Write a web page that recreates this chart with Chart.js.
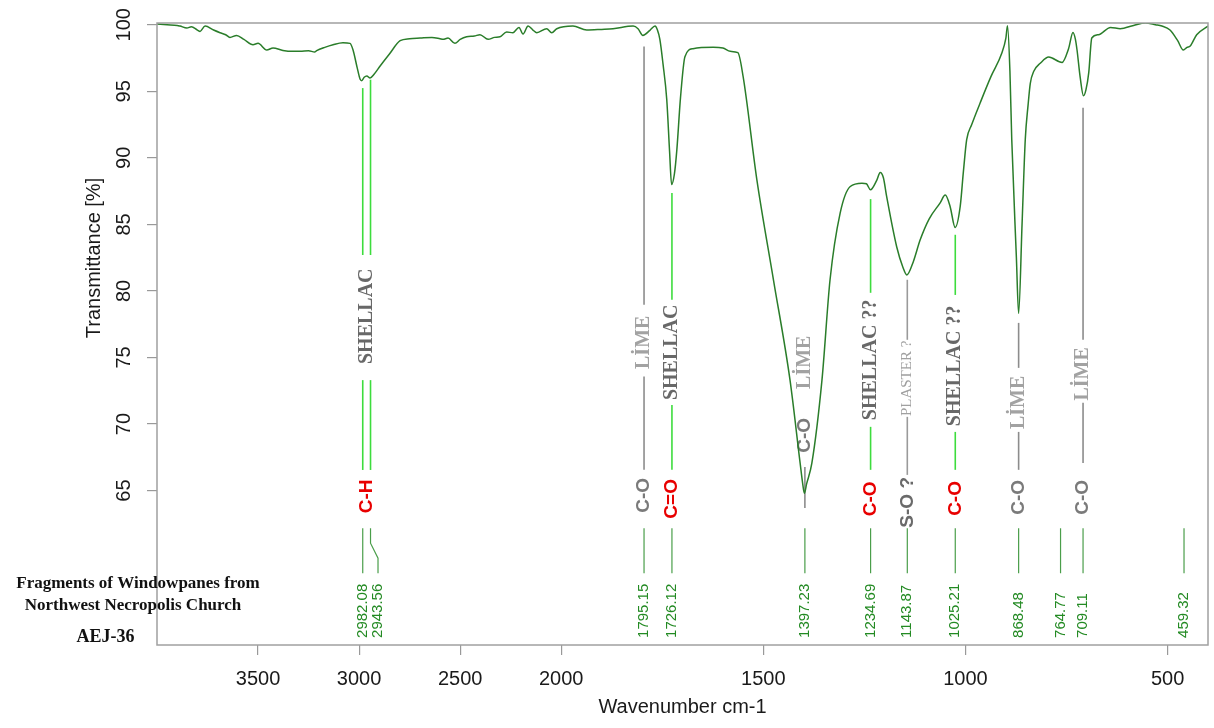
<!DOCTYPE html>
<html>
<head>
<meta charset="utf-8">
<title>FTIR AEJ-36</title>
<script src="https://cdn.jsdelivr.net/npm/chart.js@4.4.1/dist/chart.umd.min.js"></script>
<style>
  html, body { margin: 0; padding: 0; background: #fff; }
  #wrap { width: 1214px; height: 728px; position: relative; }
</style>
</head>
<body>
<div id="wrap"><canvas id="ftir"></canvas></div>
<script>
// spectrum
const wavenumbers = [
  4000, 3950, 3900, 3886, 3852, 3830, 3800, 3787, 3762, 3720, 3688, 3660, 3639, 3606, 3570, 3525, 3500,
  3457, 3426, 3377, 3330, 3292, 3250, 3220, 3210, 3170, 3129, 3080, 3045, 3030, 3010, 2995, 2987, 2975,
  2962, 2946, 2925, 2896, 2850, 2797, 2750, 2698, 2640, 2600, 2585, 2560, 2526, 2500, 2468, 2430, 2402,
  2362, 2330, 2303, 2270, 2239, 2209, 2189, 2164, 2140, 2121, 2072, 2047, 2022, 1971, 1937, 1900, 1872,
  1822, 1810, 1798, 1780, 1768, 1762, 1756, 1748, 1739, 1732, 1727, 1720, 1714, 1705, 1694, 1674, 1624,
  1600, 1582, 1563, 1550, 1516, 1475, 1434, 1409, 1403, 1398.5, 1393, 1380, 1355, 1335, 1310,
  1285, 1256, 1245, 1235, 1219, 1211, 1203, 1195, 1170, 1155, 1145, 1129, 1112, 1090, 1063, 1050,
  1038, 1025.5, 1013, 1005, 997, 984.5, 964, 937, 910, 900, 896, 890, 885.5, 874, 868.5, 860, 852, 845,
  839.6, 831, 815, 794, 761, 745, 734, 728, 724, 716, 708, 702, 695, 687.5, 671, 641, 617, 584, 555, 530,
  514, 494, 475, 461, 452, 444, 428, 400
];
const transmittance = [
  100.05, 100.0, 99.95, 99.9, 99.75, 99.85, 99.6, 99.5, 99.9, 99.6, 99.4, 99.25, 99.05, 99.2, 98.9, 98.5, 98.6,
  98.1, 98.25, 98.07, 98.0, 98.0, 98.05, 97.95, 98.05, 98.3, 98.5, 98.65, 98.6, 98.1, 96.8, 95.9, 95.8, 96.05,
  96.15, 96.0, 96.3, 96.9, 97.8, 98.8, 98.95, 99.0, 99.05, 98.95, 98.9, 99.0, 98.6, 98.9, 99.1, 99.15, 99.25,
  98.9, 99.05, 99.1, 99.45, 99.4, 99.8, 99.3, 99.9, 99.6, 99.4, 99.7, 99.4, 99.7, 99.9, 99.6, 99.65, 99.7,
  99.9, 99.7, 99.2, 99.6, 99.9, 99.6, 98.9, 97.0, 94.4, 90.5, 88.0, 88.8, 90.6, 94.5, 97.6, 98.2, 98.3,
  98.25, 98.0, 97.9, 96.1, 88.35, 80.84, 73.3, 67.06, 65.6, 64.8, 65.5, 67.06, 73.3, 80.84, 85.85,
  87.85, 88.1, 88.05, 87.6, 88.35, 88.9, 88.5, 87.1, 83.3, 81.8, 81.2, 82.2, 83.84, 85.4, 86.6, 87.2,
  86.35, 84.77, 86.35, 89.0, 91.36, 92.5, 94.1, 96.1, 97.87, 99.0, 99.92, 96.5, 91.4, 82.5, 78.3, 85.0, 91.4, 94.0,
  95.6, 96.5, 97.1, 97.57, 97.17, 98.2, 99.42, 98.9, 98.1, 96.0, 94.66, 95.1, 96.4, 99.0, 99.25, 99.8, 99.7, 99.95, 100.13, 100.0,
  99.9, 99.6, 98.8, 98.1, 98.3, 98.4, 99.25, 99.9
];

const xTickValues = [3500, 3000, 2500, 2000, 1500, 1000, 500];
const yTickValues = [65, 70, 75, 80, 85, 90, 95, 100];

const peakPositions = [2982.08, 2943.56, 1795.15, 1726.12, 1397.23, 1234.69, 1143.87, 1025.21, 868.48, 764.77, 709.11, 459.32];
const peakNumbers = ["2982.08", "2943.56", "1795.15", "1726.12", "1397.23", "1234.69", "1143.87", "1025.21", "868.48", "764.77", "709.11", "459.32"];
const bandLabels = ["C-H", "C-O", "C=O", "C-O", "C-O", "S-O ?", "C-O", "C-O", "C-O"];
const materialLabels = ["SHELLAC", "LİME", "SHELLAC", "LİME", "SHELLAC ??", "PLASTER ?", "SHELLAC ??", "LİME", "LİME"];

// where each assignment marker sits (transmittance units), one per label above
const markers = [
  { peaks: [0, 1], kind: "shellac", top: [95.24, 95.87], gap: [82.7, 73.3], end: 66.55, textY: 78.1, bandY: 64.56 },
  { peaks: [2], kind: "lime", top: [98.37], gap: [78.96, 73.57], end: 66.56, textY: 76.14, bandY: 64.64 },
  { peaks: [3], kind: "shellac", top: [87.35], gap: [79.33, 71.44], end: 66.56, textY: 75.39, bandY: 64.38 },
  { peaks: [4], kind: "lime", top: [66.78], gap: null, end: 63.7, textY: 74.64, bandY: 69.15 },
  { peaks: [5], kind: "shellac", top: [86.9], gap: [79.86, 69.79], end: 66.56, textY: 74.82, bandY: 64.38 },
  { peaks: [6], kind: "plaster", top: [80.84], gap: [76.33, 70.54], end: 66.18, textY: 73.43, bandY: 64.12 },
  { peaks: [7], kind: "shellac", top: [84.22], gap: [79.7, 69.41], end: 66.56, textY: 74.37, bandY: 64.41 },
  { peaks: [8], kind: "lime", top: [77.6], gap: [74.22, 69.41], end: 66.56, textY: 71.63, bandY: 64.49 },
  { peaks: [10], kind: "lime", top: [93.76], gap: [76.33, 71.6], end: 67.08, textY: 73.77, bandY: 64.49 },
];

const styles = {
  shellac: { line: "#3ddc3d", text: "#686868", font: "bold 20px 'Liberation Serif'", band: "#e80000" },
  lime: { line: "#8c8c8c", text: "#a2a2a2", font: "bold 20px 'Liberation Serif'", band: "#7a7a7a" },
  plaster: { line: "#9a9a9a", text: "#a0a0a0", font: "15px 'Liberation Serif'", band: "#6a6a6a" },
};

const STUB_TOP = 62.17;
const STUB_BOTTOM = 58.79;
const NUMBER_BASE = 53.93;
const KINK = { peak: 1, to: 2906.5 };

// axis with double resolution below 2000 cm-1 (as OPUS prints it), high to low
const BREAK = 2000;
class SplitScale extends Chart.LinearScale {
  static id = "split";
  static defaults = Chart.LinearScale.defaults;
  _span(v) {
    return v >= BREAK ? this.max - v : this.max - BREAK + 2 * (BREAK - v);
  }
  getPixelForValue(v) {
    return this.getPixelForDecimal(this._span(v) / this._span(this.min));
  }
  getValueForPixel(px) {
    const t = this.getDecimalForPixel(px) * this._span(this.min);
    const hi = this.max - BREAK;
    return t <= hi ? this.max - t : BREAK - (t - hi) / 2;
  }
}
Chart.register(SplitScale);

function vtext(ctx, txt, x, y, font, color, align) {
  ctx.save();
  ctx.translate(x, y);
  ctx.rotate(-Math.PI / 2);
  ctx.font = font;
  ctx.fillStyle = color;
  ctx.textAlign = align || "center";
  ctx.textBaseline = "middle";
  ctx.fillText(txt, 0, 0);
  ctx.restore();
}

function vline(ctx, x, y1, y2, color, w) {
  ctx.beginPath();
  ctx.strokeStyle = color;
  ctx.lineWidth = w;
  ctx.moveTo(x, y1);
  ctx.lineTo(x, y2);
  ctx.stroke();
}

const decor = {
  id: "decor",
  beforeDatasetsDraw(chart) {
    const { ctx } = chart;
    const x = chart.scales.x;
    const y = chart.scales.y;
    ctx.save();

    markers.forEach((m, i) => {
      const st = styles[m.kind];
      const xs = m.peaks.map((p) => x.getPixelForValue(peakPositions[p]));
      xs.forEach((px, k) => {
        if (m.gap) {
          vline(ctx, px, y.getPixelForValue(m.top[k]), y.getPixelForValue(m.gap[0]), st.line, 1.6);
          vline(ctx, px, y.getPixelForValue(m.gap[1]), y.getPixelForValue(m.end), st.line, 1.6);
        } else {
          vline(ctx, px, y.getPixelForValue(m.top[k]), y.getPixelForValue(m.end), st.line, 1.6);
        }
      });
      const cx = xs.reduce((a, b) => a + b, 0) / xs.length;
      vtext(ctx, materialLabels[i], cx, y.getPixelForValue(m.textY), st.font, st.text);
      vtext(ctx, bandLabels[i], cx, y.getPixelForValue(m.bandY), "bold 19px 'Liberation Sans'", st.band);
    });

    // short stubs and wavenumber labels along the bottom
    peakPositions.forEach((p, i) => {
      const px = x.getPixelForValue(p);
      let lx = px;
      ctx.beginPath();
      ctx.strokeStyle = "#4a9e4a";
      ctx.lineWidth = 1.2;
      if (i === KINK.peak) {
        lx = x.getPixelForValue(KINK.to);
        ctx.moveTo(px, y.getPixelForValue(STUB_TOP));
        ctx.lineTo(px, y.getPixelForValue(61.05));
        ctx.lineTo(lx, y.getPixelForValue(59.92));
        ctx.lineTo(lx, y.getPixelForValue(STUB_BOTTOM));
      } else {
        ctx.moveTo(px, y.getPixelForValue(STUB_TOP));
        ctx.lineTo(px, y.getPixelForValue(STUB_BOTTOM));
      }
      ctx.stroke();
      vtext(ctx, peakNumbers[i], lx, y.getPixelForValue(NUMBER_BASE), "15px 'Liberation Sans'", "#238a23", "left");
    });
    ctx.restore();
  },
  afterDraw(chart) {
    const { ctx, chartArea: a } = chart;
    const y = chart.scales.y;
    ctx.save();
    ctx.strokeStyle = "#a0a0a0";
    ctx.lineWidth = 1.5;
    ctx.strokeRect(a.left, a.top, a.right - a.left, a.bottom - a.top);

    yTickValues.forEach((v) => {
      vtext(ctx, String(v), 124.5, y.getPixelForValue(v), "20px 'Liberation Sans'", "#1a1a1a");
    });
    vtext(ctx, "Transmittance [%]", 94, 258, "20px 'Liberation Sans'", "#1a1a1a");

    ctx.fillStyle = "#111";
    ctx.textAlign = "center";
    ctx.textBaseline = "middle";
    ctx.font = "bold 17px 'Liberation Serif'";
    ctx.fillText("Fragments of Windowpanes from", 138, 584);
    ctx.fillText("Northwest Necropolis Church", 133, 606);
    ctx.font = "bold 18px 'Liberation Serif'";
    ctx.fillText("AEJ-36", 105.5, 637);
    ctx.restore();
  },
};

const points = wavenumbers.map((w, i) => ({ x: w, y: transmittance[i] }));

new Chart(document.getElementById("ftir"), {
  type: "line",
  data: {
    datasets: [
      {
        label: "AEJ-36",
        data: points,
        borderColor: "#2a7d2a",
        borderWidth: 1.5,
        pointRadius: 0,
        cubicInterpolationMode: "monotone",
        fill: false,
      },
    ],
  },
  options: {
    responsive: true,
    maintainAspectRatio: false,
    animation: false,
    layout: { padding: { top: 23, right: 6, left: 0, bottom: 0 } },
    plugins: { legend: { display: false }, tooltip: { enabled: false } },
    scales: {
      x: {
        type: "split",
        min: 400,
        max: 4000,
        afterBuildTicks: (s) => { s.ticks = xTickValues.map((v) => ({ value: v })); },
        afterFit: (s) => { s.height = 83; },
        border: { display: false },
        grid: { drawOnChartArea: false, drawTicks: true, tickLength: 10, color: "#999", lineWidth: 1.2 },
        ticks: {
          autoSkip: false,
          maxRotation: 0,
          padding: 12,
          color: "#1a1a1a",
          font: { family: "'Liberation Sans'", size: 20 },
          callback: (v) => String(v),
        },
        title: {
          display: true,
          text: "Wavenumber cm-1",
          color: "#1a1a1a",
          font: { family: "'Liberation Sans'", size: 20 },
          padding: { top: 0, bottom: 9 },
        },
      },
      y: {
        type: "linear",
        min: 53.4,
        max: 100.13,
        afterBuildTicks: (s) => { s.ticks = yTickValues.map((v) => ({ value: v })); },
        afterFit: (s) => { s.width = 157; },
        border: { display: false },
        grid: { drawOnChartArea: false, drawTicks: true, tickLength: 10, color: "#999", lineWidth: 1.2 },
        ticks: { display: false },
      },
    },
  },
  plugins: [decor],
});
</script>
</body>
</html>
